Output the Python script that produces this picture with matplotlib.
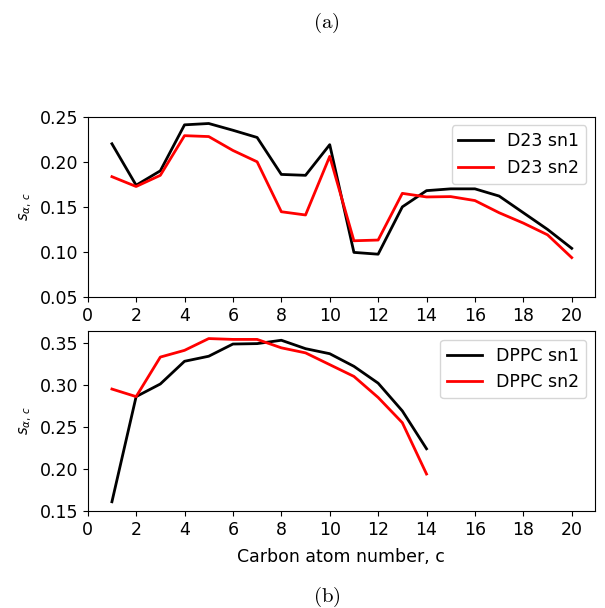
import matplotlib
matplotlib.use("Agg")
import matplotlib.pyplot as plt

carbon_d23 = list(range(1, 21))
d23_sn1 = [0.220, 0.174, 0.190, 0.241, 0.2425, 0.235, 0.227, 0.186, 0.185, 0.219,
           0.0995, 0.0975, 0.150, 0.168, 0.170, 0.170, 0.162, 0.1435, 0.125, 0.104]
d23_sn2 = [0.1835, 0.1726, 0.185, 0.229, 0.228, 0.2126, 0.200, 0.1446, 0.141, 0.206,
           0.1124, 0.1132, 0.165, 0.161, 0.1614, 0.157, 0.1435, 0.132, 0.119, 0.0937]

carbon_dppc = list(range(1, 15))
dppc_sn1 = [0.161, 0.286, 0.301, 0.328, 0.334, 0.3485, 0.349, 0.353, 0.343, 0.337,
            0.322, 0.302, 0.269, 0.224]
dppc_sn2 = [0.295, 0.286, 0.333, 0.341, 0.355, 0.354, 0.354, 0.344, 0.338, 0.324,
            0.310, 0.285, 0.255, 0.194]

xticks = list(range(0, 21, 2))

fig = plt.figure(figsize=(6.05, 6.08), dpi=100)
ax1 = fig.add_axes([0.145, 0.5115, 0.838, 0.2965])
ax2 = fig.add_axes([0.145, 0.1595, 0.838, 0.2961])

fs = 12.5
ax1.plot(carbon_d23, d23_sn1, color='black', lw=2, label='D23 sn1')
ax1.plot(carbon_d23, d23_sn2, color='red', lw=2, label='D23 sn2')
ax1.set_xlim(0, 20.95)
ax1.set_ylim(0.05, 0.25)
ax1.set_xticks(xticks)
ax1.set_yticks([0.05, 0.10, 0.15, 0.20, 0.25])
ax1.tick_params(labelsize=fs)
ax1.set_ylabel(r'$s_{\alpha,\,c}$', fontsize=10.5)
ax1.legend(loc='upper right', fontsize=fs)

ax2.plot(carbon_dppc, dppc_sn1, color='black', lw=2, label='DPPC sn1')
ax2.plot(carbon_dppc, dppc_sn2, color='red', lw=2, label='DPPC sn2')
ax2.set_xlim(0, 20.95)
ax2.set_ylim(0.15, 0.364)
ax2.set_xticks(xticks)
ax2.set_yticks([0.15, 0.20, 0.25, 0.30, 0.35])
ax2.tick_params(labelsize=fs)
ax2.set_ylabel(r'$s_{\alpha,\,c}$', fontsize=10.5)
ax2.set_xlabel('Carbon atom number, c', fontsize=fs, labelpad=7)
ax2.legend(loc='upper right', fontsize=fs)

fig.text(0.54, 0.963, r'$\mathrm{(a)}$', ha='center', va='center', fontsize=15,
         math_fontfamily='cm')
fig.text(0.54, 0.019, r'$\mathrm{(b)}$', ha='center', va='center', fontsize=15,
         math_fontfamily='cm')

fig.savefig('out.png', dpi=100)
